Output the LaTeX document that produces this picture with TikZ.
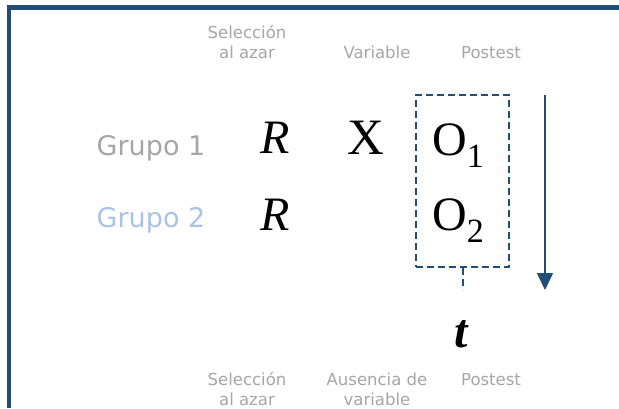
\documentclass[tikz,border=0pt]{standalone}
\usepackage{fontspec}
\setmainfont{Liberation Serif}
\newfontfamily\labelfont{DejaVu Sans}
\usetikzlibrary{arrows.meta}

\definecolor{marco}{HTML}{1F4E79}
\definecolor{etiqueta}{HTML}{A6A6A6}
\definecolor{grupodos}{HTML}{A9C3E8}

% subindice grande y bajado, como en O_1
\newcommand{\subind}[1]{\raisebox{-12pt}{\fontsize{34}{34}\selectfont #1}}

\begin{document}
\begin{tikzpicture}[x=1pt, y=-1pt,
    etiq/.style={anchor=base, inner sep=0pt, align=center, text=etiqueta, font=\labelfont\fontsize{16.5}{20}\selectfont},
    grupo/.style={anchor=base, inner sep=0pt, font=\labelfont\fontsize{27}{27}\selectfont},
    simbolo/.style={anchor=base, inner sep=0pt, font=\fontsize{48}{48}\selectfont},
    postbox/.style={draw=marco, line width=2pt, dash pattern=on 7pt off 4pt, minimum width=93pt, minimum height=172pt, inner sep=0pt},
    tiempo/.style={-{Triangle[width=16pt,length=17pt]}, draw=marco, line width=1.5pt}
]
\useasboundingbox (0,0) rectangle (619,408);

% Marco
\draw[marco, line width=5pt] (7,7.5) -- (619,7.5);
\draw[marco, line width=4pt] (9,5) -- (9,408);

% Encabezados (base = ultima linea)
\node[etiq] (selsup) at (247,58) {Selección\\al azar};
\node[etiq] (varsup) at (377,58) {Variable};
\node[etiq] (postsup) at (491,58) {Postest};

% Grupos
\node[grupo, text=etiqueta] (g1) at (151,155) {Grupo 1};
\node[grupo, text=grupodos] (g2) at (151,227) {Grupo 2};

% Diseño
\node[simbolo] (r1) at (275,153) {\textit{R}};
\node[simbolo] (r2) at (275,230) {\textit{R}};
\node[simbolo, font=\fontsize{51}{51}\selectfont] (x1) at (366,154) {X};
\node[simbolo] (o1) at (458,155) {O\subind{1}};
\node[simbolo] (o2) at (458,230) {O\subind{2}};

% Postest y tiempo
\node[postbox] (caja) at (462.5,181) {};
\coordinate (cajafin) at (462.5,290);
\draw[marco, line width=2pt, dash pattern=on 7pt off 4pt] (caja.south) -- (cajafin);
\coordinate (tini) at (545,95);
\coordinate (tfin) at (545,290);
\draw[tiempo] (tini) -- (tfin);
\node[simbolo] (t) at (461,347) {\bfseries\itshape t};

% Pie
\node[etiq] (selinf) at (247,405) {Selección\\al azar};
\node[etiq] (ausinf) at (377,405) {Ausencia de\\variable};
\node[etiq] (postinf) at (491,385) {Postest};

\end{tikzpicture}
\end{document}
